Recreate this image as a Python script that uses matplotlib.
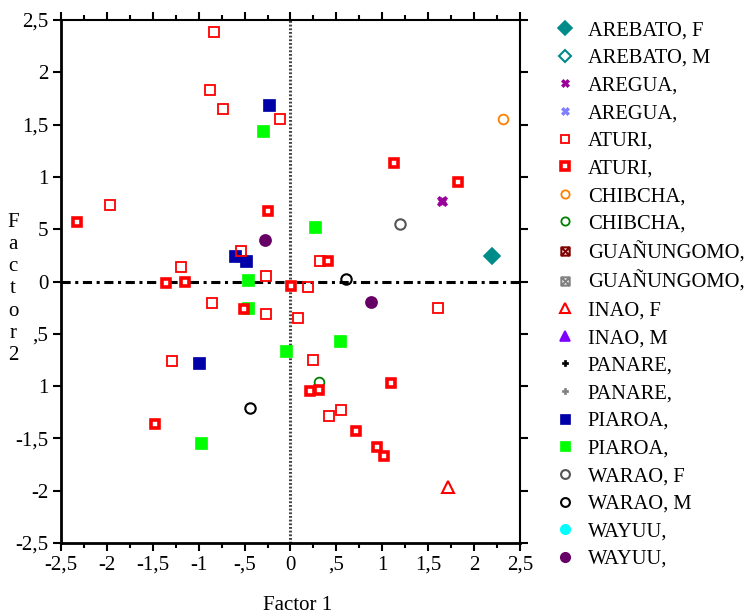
import matplotlib
matplotlib.use("Agg")
import matplotlib.pyplot as plt
from matplotlib.path import Path
from matplotlib.ticker import FixedLocator, FixedFormatter, MultipleLocator

plt.rcParams['font.family'] = ['Liberation Serif', 'DejaVu Serif']

# ---- data ----
aturi_open_x = [-0.83, -0.88, -0.74, -0.11, -1.97, -0.54, -1.19, -0.27, 0.32, 0.19,
                -0.85, -0.27, 0.08, 1.61, 0.25, -1.29, 0.55, 0.42]
aturi_open_y = [2.39, 1.83, 1.65, 1.55, 0.73, 0.29, 0.14, 0.05, 0.20, -0.05,
                -0.21, -0.31, -0.35, -0.25, -0.75, -0.76, -1.23, -1.29]
aturi_thick_x = [-2.33, -0.25, -1.36, -1.15, 0.01, 1.13, 1.83, 0.41, -0.51, 1.10,
                 0.21, 0.31, 0.71, 0.94, 1.02, -1.48]
aturi_thick_y = [0.57, 0.67, -0.01, 0.00, -0.04, 1.13, 0.95, 0.20, -0.26, -0.97,
                 -1.05, -1.04, -1.43, -1.58, -1.67, -1.36]
chibcha_o_x, chibcha_o_y = [2.32], [1.55]
chibcha_g_x, chibcha_g_y = [0.31], [-0.96]
arebato_f_x, arebato_f_y = [2.19], [0.24]
aregua_p_x, aregua_p_y = [1.65], [0.77]
inao_f_x, inao_f_y = [1.72], [-1.96]
piaroa_b_x = [-0.23, -0.60, -0.49, -1.00]
piaroa_b_y = [1.69, 0.24, 0.20, -0.78]
piaroa_g_x = [-0.30, -0.46, -0.46, 0.27, 0.54, -0.05, -0.97]
piaroa_g_y = [1.44, 0.01, -0.25, 0.52, -0.57, -0.66, -1.54]
warao_f_x, warao_f_y = [1.19], [0.55]
warao_m_x, warao_m_y = [0.61, -0.44], [0.02, -1.21]
wayuu_p_x, wayuu_p_y = [-0.28, 0.88], [0.40, -0.20]

xticks = [-2.5, -2, -1.5, -1, -0.5, 0, 0.5, 1, 1.5, 2, 2.5]
xtick_labels = ['-2,5', '-2', '-1,5', '-1', '-,5', '0', ',5', '1', '1,5', '2', '2,5']
yticks = [-2.5, -2, -1.5, -1, -0.5, 0, 0.5, 1, 1.5, 2, 2.5]
ytick_labels = ['-2,5', '-2', '-1,5', '1', ',5', '0', '5', '1', '1,5', '2', '2,5']

# boxed-x marker
box_x = Path([(-1, -1), (1, -1), (1, 1), (-1, 1), (-1, -1),
              (-1, -1), (1, 1), (-1, 1), (1, -1)],
             [Path.MOVETO, Path.LINETO, Path.LINETO, Path.LINETO, Path.CLOSEPOLY,
              Path.MOVETO, Path.LINETO, Path.MOVETO, Path.LINETO])

fig = plt.figure(figsize=(7.51, 6.16), dpi=100)
ax = fig.add_axes([0.0812, 0.1185, 0.6112, 0.849])

ax.axhline(0, color='black', lw=2.2, ls=(0, (3, 1.5, 1, 1.5)), zorder=1)
ax.axvline(0, color='#444444', lw=2.2, ls=(0, (0.6, 0.6)), zorder=1)

def pl(x, y, label, marker, ms, mfc, mec, mew=1.2, z=3):
    ax.plot(x, y, ls='none', marker=marker, ms=ms, mfc=mfc, mec=mec, mew=mew,
            label=label, zorder=z)

pl(arebato_f_x, arebato_f_y, 'AREBATO, F', 'D', 8, '#008B8B', '#008B8B')
pl([], [], 'AREBATO, M', 'D', 7, 'none', '#008B8B', 1.5)
pl(aregua_p_x, aregua_p_y, 'AREGUA,', 'X', 7.5, '#990099', '#990099', 0.5)
pl([], [], 'AREGUA,', 'X', 7.5, '#8080FF', '#8080FF', 0.5)
pl(aturi_open_x, aturi_open_y, 'ATURI,', 's', 7.3, 'none', '#FF0000', 1.3, 5)
pl(aturi_thick_x, aturi_thick_y, 'ATURI,', 's', 6.2, 'white', '#FF0000', 2.6, 5)
pl(chibcha_o_x, chibcha_o_y, 'CHIBCHA,', 'o', 7, 'none', '#FF8000', 1.3)
pl(chibcha_g_x, chibcha_g_y, 'CHIBCHA,', 'o', 7, 'none', '#008000', 1.3)
pl([], [], 'GUAÑUNGOMO,', box_x, 7, 'none', '#800000', 1.5)
pl([], [], 'GUAÑUNGOMO,', box_x, 7, 'none', '#808080', 1.5)
pl(inao_f_x, inao_f_y, 'INAO, F', '^', 8.5, 'none', '#FF0000', 1.5)
pl([], [], 'INAO, M', '^', 9, '#8000FF', '#8000FF')
pl([], [], 'PANARE,', 'P', 5, 'black', 'black', 0.5)
pl([], [], 'PANARE,', 'P', 5, '#808080', '#808080', 0.5)
pl(piaroa_b_x, piaroa_b_y, 'PIAROA,', 's', 8, '#0000A8', '#0000A8', 0.5, 3)
pl(piaroa_g_x, piaroa_g_y, 'PIAROA,', 's', 8, '#00FF00', '#00FF00', 0.5, 3)
pl(warao_f_x, warao_f_y, 'WARAO, F', 'o', 7.5, 'none', '#555555', 1.5)
pl(warao_m_x, warao_m_y, 'WARAO, M', 'o', 7.5, 'none', 'black', 1.5)
pl([], [], 'WAYUU,', 'o', 8, '#00FFFF', '#00FFFF')
pl(wayuu_p_x, wayuu_p_y, 'WAYUU,', 'o', 8, '#660066', '#660066')

ax.set_xlim(-2.5, 2.5)
ax.set_ylim(-2.5, 2.5)
ax.xaxis.set_major_locator(FixedLocator(xticks))
ax.xaxis.set_major_formatter(FixedFormatter(xtick_labels))
ax.xaxis.set_minor_locator(MultipleLocator(0.25))
ax.yaxis.set_major_locator(FixedLocator(yticks))
ax.yaxis.set_major_formatter(FixedFormatter(ytick_labels))
ax.tick_params(which='both', direction='out', top=True, right=True,
               labeltop=False, labelright=False, width=1.5, color='black')
ax.tick_params(which='major', length=6, labelsize=15, pad=3)
ax.tick_params(which='minor', length=3.5)
for s in ['left', 'bottom']:
    ax.spines[s].set_linewidth(2)
for s in ['top', 'right']:
    ax.spines[s].set_linewidth(1.5)

fig.text(298 / 751, 1 - 605 / 616, 'Factor 1', ha='center', va='center', fontsize=15)
fig.text(13 / 751, 1 - 289 / 616, 'F\na\nc\nt\no\nr\n2', ha='center', va='center',
         fontsize=15, linespacing=1.22, multialignment='center')

fig.legend(loc='upper left', bbox_to_anchor=(555 / 751, 1 - 21 / 616), frameon=False,
           fontsize=14.8, handlelength=1.0, handletextpad=0.6, labelspacing=0.4,
           borderpad=0, borderaxespad=0, numpoints=1, markerscale=0.85)

fig.savefig('out.png', dpi=100)
